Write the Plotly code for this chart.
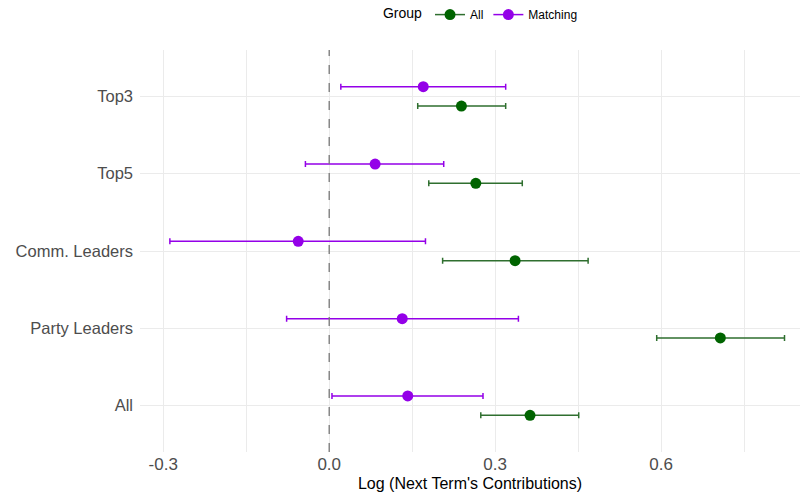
import plotly.graph_objects as go

categories = ["All", "Party Leaders", "Comm. Leaders", "Top5", "Top3"]

all_est = [0.363, 0.707, 0.336, 0.265, 0.239]
all_lo = [0.274, 0.592, 0.205, 0.180, 0.160]
all_hi = [0.451, 0.823, 0.468, 0.349, 0.319]

match_est = [0.142, 0.132, -0.056, 0.083, 0.170]
match_lo = [0.005, -0.077, -0.288, -0.043, 0.021]
match_hi = [0.278, 0.342, 0.174, 0.207, 0.319]

GREEN = "#006400"
GREEN_BAR = "#2f6f2f"
PURPLE = "#9400E8"
FONT = "Liberation Sans"
OFF = 0.125

pos = list(range(1, len(categories) + 1))

fig = go.Figure()

def add_series(est, lo, hi, color, barcolor, offset, name):
    y = [p + offset for p in pos]
    fig.add_trace(go.Scatter(
        x=est, y=y, mode="markers",
        marker=dict(color=color, size=11),
        error_x=dict(type="data", symmetric=False,
                     array=[h - e for h, e in zip(hi, est)],
                     arrayminus=[e - l for e, l in zip(est, lo)],
                     color=barcolor, thickness=1.5, width=3),
        showlegend=False, hoverinfo="skip"))
    fig.add_trace(go.Scatter(
        x=[None], y=[None], mode="lines+markers", name=name,
        marker=dict(color=color, size=11),
        line=dict(color=barcolor, width=1.5)))

add_series(all_est, all_lo, all_hi, GREEN, GREEN_BAR, -OFF, "All")
add_series(match_est, match_lo, match_hi, PURPLE, PURPLE, OFF, "Matching")

fig.add_shape(type="line", x0=0, x1=0, xref="x", y0=0, y1=1, yref="paper",
              line=dict(color="#777777", width=1.3, dash="dash"), layer="above")

fig.update_layout(
    width=803, height=497,
    margin=dict(l=140, r=3, t=50, b=45, autoexpand=False),
    paper_bgcolor="white", plot_bgcolor="white",
    font=dict(family=FONT, color="#4d4d4d"),
    legend=dict(orientation="h", x=0.365, xanchor="left", y=1.052, yanchor="bottom",
                title=dict(text="Group", font=dict(size=14, color="black", family=FONT)),
                font=dict(size=12, color="black", family=FONT),
                itemwidth=30, tracegroupgap=0),
)
fig.update_xaxes(
    range=[-0.342, 0.851], tickmode="array",
    tickvals=[-0.3, 0.0, 0.3, 0.6], ticktext=["-0.3", "0.0", "0.3", "0.6"],
    showgrid=True, gridcolor="#ebebeb", gridwidth=1,
    minor=dict(tickmode="array", tickvals=[-0.15, 0.15, 0.45, 0.75],
               showgrid=True, gridcolor="#ebebeb", gridwidth=1),
    zeroline=False, showline=False, ticks="", automargin=False,
    tickfont=dict(size=17, color="#4d4d4d", family=FONT),
    title=dict(text="Log (Next Term's Contributions)",
               font=dict(size=16, color="black", family=FONT), standoff=4),
)
fig.update_yaxes(
    range=[0.4, 5.6], tickmode="array", tickvals=pos, ticktext=categories,
    showgrid=True, gridcolor="#ebebeb", gridwidth=1,
    zeroline=False, showline=False, ticks="", ticklabelstandoff=6, automargin=False,
    tickfont=dict(size=16.5, color="#4d4d4d", family=FONT),
)

fig.write_html("out.html", config={"displayModeBar": False},
               post_script="document.body.style.margin='0';document.body.style.padding='0';")
